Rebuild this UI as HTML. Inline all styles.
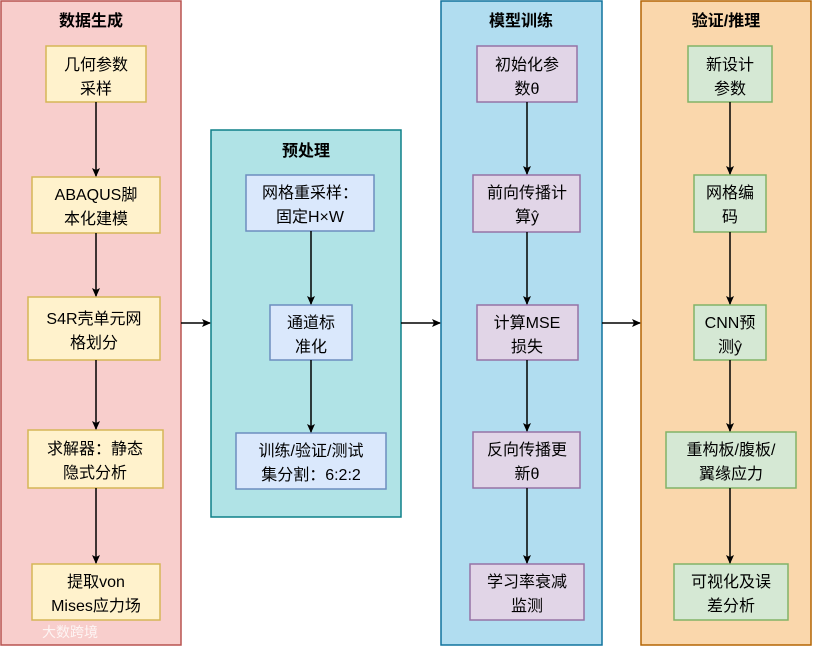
<!DOCTYPE html>
<html><head><meta charset="utf-8"><style>
html,body{margin:0;padding:0;background:#fff;}
svg text{font-family:"Liberation Sans","Noto Sans CJK SC",sans-serif;font-size:16px;fill:#000;text-anchor:middle;}
.t{font-weight:bold;}
</style></head><body>
<svg width="813" height="647" viewBox="0 0 813 647" xmlns="http://www.w3.org/2000/svg">
<defs><marker id="a" markerWidth="10" markerHeight="10" refX="8" refY="5" orient="auto" markerUnits="userSpaceOnUse"><path d="M0,1 L9,5 L0,9 L2,5 Z" fill="#000"/></marker></defs>
<!-- columns -->
<rect x="1" y="1" width="180" height="644" fill="#f8cecc" stroke="#b85450" stroke-width="1.5"/>
<rect x="211" y="130" width="190" height="387" fill="#b0e3e6" stroke="#0e8088" stroke-width="1.5"/>
<rect x="441" y="1" width="161" height="644" fill="#b1ddf0" stroke="#10739e" stroke-width="1.5"/>
<rect x="641" y="1" width="170" height="644" fill="#fad7ac" stroke="#b46504" stroke-width="1.5"/>
<text class="t" x="91" y="26">数据生成</text>
<text class="t" x="306" y="156">预处理</text>
<text class="t" x="521" y="26">模型训练</text>
<text class="t" x="726" y="26">验证/推理</text>
<!-- col1 -->
<g fill="#fff2cc" stroke="#d6b656" stroke-width="1.5">
<rect x="46" y="46" width="100" height="56"/>
<rect x="32" y="177" width="128" height="56"/>
<rect x="28" y="297" width="132" height="63"/>
<rect x="28" y="430" width="135" height="58"/>
<rect x="32" y="564" width="128" height="56"/>
</g>
<text x="96" y="70">几何参数</text><text x="96" y="94">采样</text>
<text x="96" y="200">ABAQUS脚</text><text x="96" y="224">本化建模</text>
<text x="94" y="324">S4R壳单元网</text><text x="94" y="348">格划分</text>
<text x="95" y="454">求解器：静态</text><text x="95" y="478">隐式分析</text>
<text x="96" y="587">提取von</text><text x="96" y="611">Mises应力场</text>
<!-- col2 -->
<g fill="#dae8fc" stroke="#6c8ebf" stroke-width="1.5">
<rect x="246" y="175" width="128" height="56"/>
<rect x="270" y="305" width="82" height="55"/>
<rect x="236" y="433" width="150" height="56"/>
</g>
<text x="310" y="198">网格重采样：</text><text x="310" y="222">固定H×W</text>
<text x="311" y="328">通道标</text><text x="311" y="352">准化</text>
<text x="311" y="456">训练/验证/测试</text><text x="311" y="480">集分割：6:2:2</text>
<!-- col3 -->
<g fill="#e1d5e7" stroke="#9673a6" stroke-width="1.5">
<rect x="477" y="46" width="100" height="56"/>
<rect x="473" y="175" width="107" height="57"/>
<rect x="477" y="305" width="101" height="55"/>
<rect x="473" y="432" width="107" height="56"/>
<rect x="470" y="564" width="114" height="56"/>
</g>
<text x="527" y="70">初始化参</text><text x="527" y="94">数θ</text>
<text x="527" y="198">前向传播计</text><text x="527" y="222">算ŷ</text>
<text x="527" y="328">计算MSE</text><text x="527" y="352">损失</text>
<text x="527" y="455">反向传播更</text><text x="527" y="479">新θ</text>
<text x="527" y="587">学习率衰减</text><text x="527" y="611">监测</text>
<!-- col4 -->
<g fill="#d5e8d4" stroke="#82b366" stroke-width="1.5">
<rect x="688" y="46" width="84" height="56"/>
<rect x="694" y="175" width="72" height="57"/>
<rect x="694" y="305" width="72" height="55"/>
<rect x="666" y="432" width="130" height="56"/>
<rect x="674" y="564" width="114" height="56"/>
</g>
<text x="730" y="70">新设计</text><text x="730" y="94">参数</text>
<text x="730" y="198">网格编</text><text x="730" y="222">码</text>
<text x="730" y="328">CNN预</text><text x="730" y="352">测ŷ</text>
<text x="731" y="455">重构板/腹板/</text><text x="731" y="479">翼缘应力</text>
<text x="731" y="587">可视化及误</text><text x="731" y="611">差分析</text>
<!-- arrows -->
<g stroke="#000" stroke-width="1.5" fill="none" marker-end="url(#a)">
<line x1="96" y1="102" x2="96" y2="176"/>
<line x1="96" y1="233" x2="96" y2="296"/>
<line x1="96" y1="360" x2="96" y2="429"/>
<line x1="96" y1="488" x2="96" y2="563"/>
<line x1="311" y1="231" x2="311" y2="304"/>
<line x1="311" y1="360" x2="311" y2="432"/>
<line x1="527" y1="102" x2="527" y2="174"/>
<line x1="527" y1="232" x2="527" y2="304"/>
<line x1="527" y1="360" x2="527" y2="431"/>
<line x1="527" y1="488" x2="527" y2="563"/>
<line x1="730" y1="102" x2="730" y2="174"/>
<line x1="730" y1="232" x2="730" y2="304"/>
<line x1="730" y1="360" x2="730" y2="431"/>
<line x1="730" y1="488" x2="730" y2="563"/>
<line x1="181" y1="323" x2="210" y2="323"/>
<line x1="401" y1="323" x2="440" y2="323"/>
<line x1="602" y1="323" x2="640" y2="323"/>
</g>
<text x="70" y="637" style="font-size:14px;fill:#fff;opacity:0.8">大数跨境</text>
</svg>
</body></html>
